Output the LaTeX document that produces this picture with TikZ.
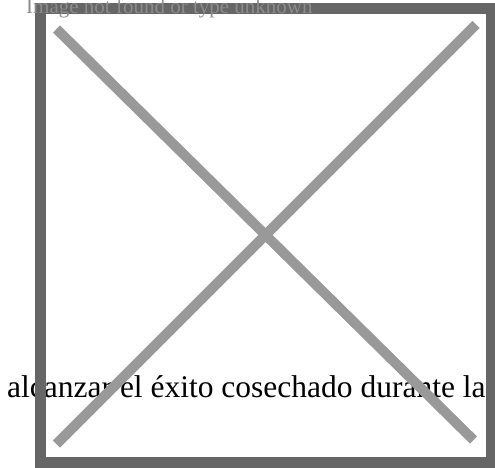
\documentclass[tikz,border=0pt]{standalone}
\usepackage{fontspec}
\setmainfont{Liberation Serif}
\definecolor{framegray}{HTML}{666666}
\definecolor{crossgray}{HTML}{999999}
\definecolor{altgray}{HTML}{8C8C8C}
\begin{document}
\begin{tikzpicture}[x=1pt,y=-1pt,
  frame/.style={draw=framegray,line width=11.5pt},
  cross/.style={draw=crossgray,line width=10pt}]
  \useasboundingbox (0,0) rectangle (495,468);
  \node[anchor=base west,inner sep=0pt,font=\fontsize{31.5}{36}\selectfont] (caption) at (7,397) {alcanzar el éxito cosechado durante la};
  \draw[frame] (40.5,8.5) rectangle (491.5,462.5);
  \coordinate (tl) at (56.5,29);
  \coordinate (br) at (473.5,440);
  \coordinate (tr) at (476,24.5);
  \coordinate (bl) at (56.5,444);
  \draw[cross] (tl) -- (br);
  \draw[cross] (tr) -- (bl);
  \node[anchor=base west,inner sep=0pt,text=altgray,font=\fontsize{21}{25}\selectfont] (alt) at (26,14) {Image not found or type unknown};
\end{tikzpicture}
\end{document}
